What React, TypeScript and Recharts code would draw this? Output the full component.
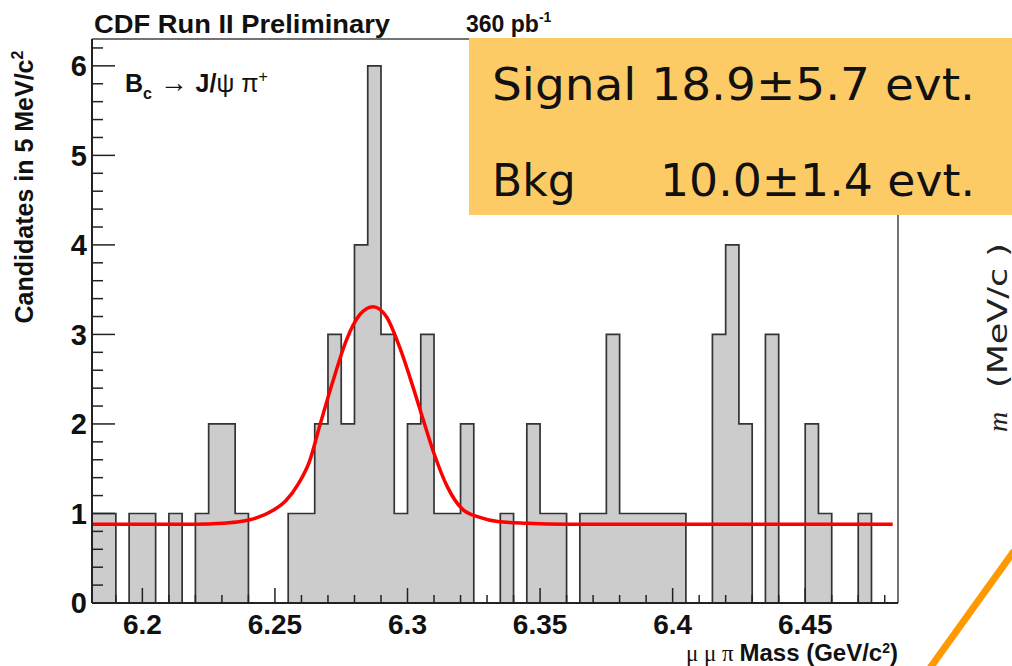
import React from 'react';
import { ComposedChart, Area, Line, XAxis, YAxis, ReferenceLine } from 'recharts';

// histogram: 5 MeV bins starting at 6.180 GeV
const binStart = 6.18;
const binWidth = 0.005;
const counts = [
  1, 1, 0, 1, 1, 0, 1, 0, 1, 2,
  2, 1, 0, 0, 0, 1, 1, 2, 3, 2,
  4, 6, 3, 1, 2, 3, 1, 1, 2, 0,
  0, 1, 0, 2, 1, 1, 0, 1, 1, 3,
  1, 1, 1, 1, 1, 0, 0, 3, 4, 2,
  0, 3, 0, 0, 2, 1, 0, 0, 1, 0, 0,
];

// fit curve
const fitX = [6.181, 6.2, 6.22, 6.23, 6.237, 6.243, 6.249, 6.254, 6.259, 6.263, 6.267, 6.272, 6.277, 6.282, 6.287, 6.292, 6.297, 6.302, 6.306, 6.31, 6.315, 6.321, 6.327, 6.334, 6.345, 6.36, 6.4, 6.45, 6.483];
const fitY = [0.88, 0.88, 0.88, 0.89, 0.91, 0.95, 1.03, 1.14, 1.34, 1.58, 1.99, 2.49, 2.94, 3.22, 3.31, 3.2, 2.86, 2.42, 2.04, 1.67, 1.3, 1.04, 0.96, 0.91, 0.89, 0.88, 0.88, 0.88, 0.88];

const xMajorTicks = [6.2, 6.25, 6.3, 6.35, 6.4, 6.45];
const xMinorTicks = [6.19, 6.21, 6.22, 6.23, 6.24, 6.26, 6.27, 6.28, 6.29, 6.31, 6.32, 6.33, 6.34, 6.36, 6.37, 6.38, 6.39, 6.41, 6.42, 6.43, 6.44, 6.46, 6.47, 6.48];
const yMajorTicks = [0, 1, 2, 3, 4, 5, 6];
const yMinorTicks = [0.2, 0.4, 0.6, 0.8, 1.2, 1.4, 1.6, 1.8, 2.2, 2.4, 2.6, 2.8, 3.2, 3.4, 3.6, 3.8, 4.2, 4.4, 4.6, 4.8, 5.2, 5.4, 5.6, 5.8, 6.2];

const xDomain: [number, number] = [6.181, 6.485];
const yDomain: [number, number] = [0, 6.3];

const histData = counts
  .map((c, i) => ({ x: +(binStart + i * binWidth).toFixed(3), count: c }))
  .concat([{ x: +(binStart + counts.length * binWidth).toFixed(3), count: 0 }]);
const fitData = fitX.map((x, i) => ({ x, fit: fitY[i] }));

const xTicks = [...xMajorTicks, ...xMinorTicks].sort((a, b) => a - b);
const yTicks = [...yMajorTicks, ...yMinorTicks].sort((a, b) => a - b);

const HELV = '"Liberation Sans", Arial, sans-serif';
const COMIC = '"Comic Sans MS", "DejaVu Sans", sans-serif';
const AXIS = '#222';

const XTick = (props: any) => {
  const { x, y, payload } = props;
  const major = xMajorTicks.some(t => Math.abs(t - payload.value) < 1e-6);
  return (
    <g>
      <line x1={x} x2={x} y1={y} y2={y - (major ? 15 : 8)} stroke={AXIS} strokeWidth={1.5} />
      {major && (
        <text x={x} y={y + 31} textAnchor="middle" fontFamily={HELV} fontWeight="bold" fontSize={28} fill="#111">
          {String(payload.value)}
        </text>
      )}
    </g>
  );
};

const YTick = (props: any) => {
  const { x, y, payload } = props;
  const major = yMajorTicks.includes(payload.value);
  return (
    <g>
      <line x1={x} x2={x + (major ? 23 : 11)} y1={y} y2={y} stroke={AXIS} strokeWidth={1.5} />
      {major && (
        <text x={x - 5} y={y} dy="0.36em" textAnchor="end" fontFamily={HELV} fontWeight="bold" fontSize={29} fill="#111">
          {String(payload.value)}
        </text>
      )}
    </g>
  );
};

export default function App() {
  return (
    <div style={{ position: 'absolute', left: 0, top: 0, width: 1012, height: 666, background: '#fff', overflow: 'hidden' }}>
      <ComposedChart width={1012} height={666} margin={{ top: 39, right: 114, left: 32, bottom: 33 }}>
        <XAxis
          type="number"
          dataKey="x"
          domain={xDomain}
          allowDataOverflow
          ticks={xTicks}
          interval={0}
          height={30}
          tickSize={0}
          tickMargin={0}
          tickLine={false}
          axisLine={{ stroke: AXIS, strokeWidth: 2 }}
          tick={(p: any) => <XTick {...p} />}
        />
        <YAxis
          type="number"
          domain={yDomain}
          allowDataOverflow
          ticks={yTicks}
          interval={0}
          width={60}
          tickSize={0}
          tickMargin={0}
          tickLine={false}
          axisLine={{ stroke: AXIS, strokeWidth: 2 }}
          tick={(p: any) => <YTick {...p} />}
        />
        <Area
          data={histData}
          dataKey="count"
          type="stepAfter"
          fill="#cccccc"
          fillOpacity={1}
          stroke="#333"
          strokeWidth={1.7}
          isAnimationActive={false}
        />
        <Line
          data={fitData}
          dataKey="fit"
          type="monotone"
          stroke="#ff0000"
          strokeWidth={3.5}
          dot={false}
          isAnimationActive={false}
        />
        <ReferenceLine y={yDomain[1]} stroke="#444" strokeWidth={1.5} />
        <ReferenceLine x={xDomain[1]} stroke="#444" strokeWidth={1.5} />
      </ComposedChart>

      <svg width={1012} height={666} style={{ position: 'absolute', left: 0, top: 0, pointerEvents: 'none' }}>
        <text x={94} y={33} fontFamily={HELV} fontWeight="bold" fontSize={25} fill="#111" textLength={296} lengthAdjust="spacingAndGlyphs">
          CDF Run II Preliminary
        </text>
        <text x={466} y={32} fontFamily={HELV} fontWeight="bold" fontSize={23} fill="#111">
          360 pb<tspan fontSize={14} dy={-10}>-1</tspan>
        </text>
        <text x={125} y={92} fontFamily={HELV} fontSize={25} fill="#111">
          <tspan fontWeight="bold">B</tspan>
          <tspan fontWeight="bold" fontSize={16} dy={7}>c</tspan>
          <tspan dy={-7} fontSize={28}> → </tspan>
          <tspan fontWeight="bold">J/</tspan>
          <tspan>ψ π</tspan>
          <tspan fontSize={16} dy={-10}>+</tspan>
        </text>
        <text
          transform="translate(33,187) rotate(-90)"
          textAnchor="middle"
          fontFamily={HELV}
          fontWeight="bold"
          fontSize={25}
          fill="#111"
        >
          Candidates in 5 MeV/c<tspan fontSize={16} dy={-10}>2</tspan>
        </text>
        <text x={898} y={661} textAnchor="end" fontFamily={HELV} fontSize={24} fill="#111">
          <tspan fontFamily='"Liberation Serif", serif' fontSize={23}>μ μ π </tspan>
          <tspan fontWeight="bold">Mass (GeV/c</tspan>
          <tspan fontWeight="bold" fontSize={14} dy={-8}>2</tspan>
          <tspan fontWeight="bold" dy={8}>)</tspan>
        </text>

        <rect x={469} y={38} width={543} height={177} fill="#fdcb66" />
        <text x={492} y={100} fontFamily={COMIC} fontSize={44} fill="#111" textLength={483} lengthAdjust="spacingAndGlyphs">
          Signal 18.9±5.7 evt.
        </text>
        <text x={492} y={196} fontFamily={COMIC} fontSize={44} fill="#111">
          Bkg
        </text>
        <text x={660} y={196} fontFamily={COMIC} fontSize={44} fill="#111" textLength={315} lengthAdjust="spacingAndGlyphs">
          10.0±1.4 evt.
        </text>

        <text transform="translate(1007,388) rotate(-90)" fontFamily='"DejaVu Sans", sans-serif' fontSize={26} fill="#222" textLength={145} lengthAdjust="spacingAndGlyphs">
          (MeV/c )
        </text>
        <text transform="translate(1007,432) rotate(-90)" fontFamily='"Liberation Serif", serif' fontStyle="italic" fontSize={28} fill="#222">
          m
        </text>
        <line x1={930} y1={668} x2={1014} y2={551} stroke="#ff9900" strokeWidth={7} />
      </svg>
    </div>
  );
}
